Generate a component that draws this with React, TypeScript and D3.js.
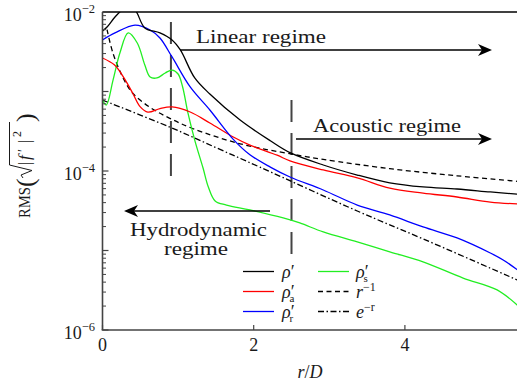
import React from 'react';
import * as d3 from 'd3';

const W = 517;
const H = 385;

// tick labels
const xTickValues = [0, 2, 4];
const yLabelExps = [-2, -4, -6];

// rho' (total)
const rhoR = [0, 0.06, 0.165, 0.26, 0.33, 0.43, 0.56, 0.76, 0.92, 1.03, 1.22, 1.42, 1.82, 2.22, 2.48, 2.92, 3.37, 3.8, 4.24, 4.69, 5.13, 5.5];
const rhoV = [5.77e-3, 6.47e-3, 8.65e-3, 1.06e-2, 1.15e-2, 1.06e-2, 6.31e-3, 5.45e-3, 4.45e-3, 3.33e-3, 1.48e-3, 9.3e-4, 4.37e-4, 2.4e-4, 1.7e-4, 1.19e-4, 8.9e-5, 7.1e-5, 6.3e-5, 5.94e-5, 5.45e-5, 5.1e-5];

// rho'_a
const rhoAR = [0, 0.16, 0.3, 0.4, 0.5, 0.6, 0.76, 0.92, 1.16, 1.42, 1.73, 1.95, 2.31, 2.48, 2.92, 3.37, 3.8, 4.24, 4.69, 5.13, 5.5];
const rhoAV = [2.64e-3, 2.15e-3, 1.4e-3, 9.5e-4, 6.4e-4, 5.5e-4, 6.1e-4, 6.4e-4, 5.52e-4, 4.02e-4, 2.68e-4, 2.12e-4, 1.58e-4, 1.34e-4, 1.03e-4, 8.2e-5, 6.1e-5, 5.28e-5, 4.71e-5, 4.07e-5, 3.85e-5];

// rho'_r
const rhoRR = [0, 0.165, 0.43, 0.63, 0.76, 0.92, 1.16, 1.42, 1.73, 1.95, 2.22, 2.48, 2.92, 3.37, 3.8, 4.24, 4.69, 5.13, 5.3, 5.5];
const rhoRV = [4.45e-3, 5.45e-3, 6.85e-3, 5.94e-3, 4.71e-3, 2.72e-3, 1.14e-3, 5.85e-4, 2.5e-4, 1.6e-4, 1.12e-4, 8.4e-5, 5.77e-5, 3.73e-5, 2.8e-5, 1.98e-5, 1.44e-5, 9.3e-6, 7.6e-6, 5.6e-6];

// rho'_s
const rhoSR = [0, 0.05, 0.14, 0.23, 0.34, 0.46, 0.56, 0.63, 0.72, 0.83, 0.92, 1.0, 1.06, 1.13, 1.22, 1.33, 1.4, 1.49, 1.64, 1.95, 2.39, 2.61, 2.92, 3.37, 3.8, 4.24, 4.77, 5.22, 5.5];
const rhoSV = [7.8e-4, 6.76e-4, 1.4e-3, 3.05e-3, 5.45e-3, 4.07e-3, 2.15e-3, 1.52e-3, 1.48e-3, 1.71e-3, 1.86e-3, 1.66e-3, 1.14e-3, 5.37e-4, 2.45e-4, 1.09e-4, 6.3e-5, 4.2e-5, 3.73e-5, 3.24e-5, 2.57e-5, 2.22e-5, 1.71e-5, 1.28e-5, 9.6e-6, 7.2e-6, 4.5e-6, 3.2e-6, 2.0e-6];

// r^-1 reference
const invR = [0.06, 0.14, 0.27, 0.4, 0.63, 0.89, 1.2, 1.82, 2.52, 2.92, 3.8, 4.69, 5.5];
const invV = [6.0e-3, 3.0e-3, 1.5e-3, 9.5e-4, 6.3e-4, 4.6e-4, 3.4e-4, 2.2e-4, 1.62e-4, 1.4e-4, 1.07e-4, 8.7e-5, 7.4e-5];

// e^-r reference
const expR = [0, 0.89, 1.51, 2.08, 3.37, 4.24, 5.13, 5.5];
const expV = [7.8e-4, 3.57e-4, 1.95e-4, 1.12e-4, 3.14e-5, 1.4e-5, 6.0e-6, 4.2e-6];

// regime boundaries (r/D)
const boundaries = [0.905, 2.5];

const serif = "'Liberation Serif', 'DejaVu Serif', 'Times New Roman', serif";

type Series = { key: string; r: number[]; v: number[]; color: string; dash?: string };

const series: Series[] = [
  { key: 'inv', r: invR, v: invV, color: '#000', dash: '5,3.5' },
  { key: 'exp', r: expR, v: expV, color: '#000', dash: '6,2.5,1.5,2.5' },
  { key: 's', r: rhoSR, v: rhoSV, color: '#22ee22' },
  { key: 'a', r: rhoAR, v: rhoAV, color: '#ff0000' },
  { key: 'rr', r: rhoRR, v: rhoRV, color: '#0000ff' },
  { key: 'rho', r: rhoR, v: rhoV, color: '#000' },
];

function Arrow({ x1, x2, y }: { x1: number; x2: number; y: number }) {
  const dir = x2 > x1 ? 1 : -1;
  const len = 14;
  const half = 6;
  const notch = 10;
  const head = `M${x2},${y} L${x2 - dir * len},${y - half} L${x2 - dir * notch},${y} L${x2 - dir * len},${y + half} Z`;
  return (
    <g>
      <line x1={x1} x2={x2 - dir * notch} y1={y} y2={y} stroke="#000" strokeWidth={1.4} />
      <path d={head} fill="#000" />
    </g>
  );
}

export default function App() {
  const x0 = 102.5, x1 = 518.3, yTop = 12, yBot = 330;
  const x = d3.scaleLinear().domain([0, 5.5]).range([x0, x1]);
  const y = d3.scaleLog().domain([1e-6, 1e-2]).range([yBot, yTop]);

  const line = (s: Series) =>
    d3
      .line<number>()
      .x((_, i) => x(s.r[i]))
      .y((_, i) => y(s.v[i]))
      .curve(d3.curveCatmullRom.alpha(0.5))(s.v) || '';

  const majors = d3.range(-6, -1).map((e) => Math.pow(10, e));
  const minors: number[] = [];
  for (let e = -6; e < -2; e++) for (let k = 2; k <= 9; k++) minors.push(k * Math.pow(10, e));

  const legend1 = [
    { color: '#000', sub: '' },
    { color: '#ff0000', sub: 'a' },
    { color: '#0000ff', sub: 'r' },
  ];
  const rowsY = [271.5, 291.5, 311.5];
  const txt = '#1a1a1a';

  return (
    <svg width={W} height={H} style={{ position: 'absolute', left: 0, top: 0, fontFamily: serif }}>
      <rect x={0} y={0} width={W} height={H} fill="#fff" />
      <defs>
        <clipPath id="plot">
          <rect x={x0} y={yTop} width={x1 - x0} height={yBot - yTop} />
        </clipPath>
      </defs>

      {/* regime boundaries */}
      <line x1={x(boundaries[0])} x2={x(boundaries[0])} y1={22} y2={176} stroke="#444" strokeWidth={2} strokeDasharray="22,11" />
      <line x1={x(boundaries[1])} x2={x(boundaries[1])} y1={100} y2={254} stroke="#444" strokeWidth={2} strokeDasharray="22,11" />

      {/* curves */}
      <g clipPath="url(#plot)">
        {series.map((s) => (
          <path key={s.key} d={line(s)} fill="none" stroke={s.color} strokeWidth={1.3} strokeDasharray={s.dash} />
        ))}
      </g>

      {/* frame */}
      <line x1={x0} x2={W} y1={yTop} y2={yTop} stroke="#000" strokeWidth={1.3} />
      <line x1={x0} x2={x0} y1={yTop} y2={yBot} stroke="#444" strokeWidth={1.6} />
      <line x1={x0 - 0.8} x2={W} y1={yBot} y2={yBot} stroke="#444" strokeWidth={1.6} />

      {/* y ticks */}
      {majors.map((m, i) => (
        <line key={'M' + i} x1={x0} x2={x0 + 6} y1={y(m)} y2={y(m)} stroke="#444" strokeWidth={1.2} />
      ))}
      {minors.map((m, i) => (
        <line key={'m' + i} x1={x0} x2={x0 + 3.5} y1={y(m)} y2={y(m)} stroke="#444" strokeWidth={1} />
      ))}
      {yLabelExps.map((e) => (
        <text key={e} x={95} y={y(Math.pow(10, e)) + 9} textAnchor="end" fontSize={18} fill={txt}>
          10<tspan fontSize={12.5} dy={-8}>{'\u2212' + Math.abs(e)}</tspan>
        </text>
      ))}

      {/* x ticks */}
      {xTickValues.map((t) => (
        <g key={t}>
          <line x1={x(t)} x2={x(t)} y1={yBot} y2={yBot - 5} stroke="#444" strokeWidth={1.2} />
          <text x={x(t)} y={351} textAnchor="middle" fontSize={18} fill={txt}>
            {t}
          </text>
        </g>
      ))}

      {/* axis labels */}
      <text x={310} y={378} textAnchor="middle" fontSize={18} fontStyle="italic" fill={txt}>
        r<tspan fontStyle="normal">/</tspan>D
      </text>
      <g transform="translate(30,218) rotate(-90)" fill={txt}>
        <text x={0} y={0} fontSize={17} textLength={31} lengthAdjust="spacingAndGlyphs">RMS</text>
        <text x={31} y={4} fontSize={26}>(</text>
        <path d="M40,-7 L43,-9 L47.5,2 L53,-20.5 L96,-20.5" fill="none" stroke={txt} strokeWidth={1} />
        <text x={53} y={0} fontSize={17}>|</text>
        <text x={58} y={0} fontSize={17} fontStyle="italic">f</text>
        <text x={66} y={-2} fontSize={14}>′</text>
        <text x={75} y={0} fontSize={17}>|</text>
        <text x={81} y={-9} fontSize={12}>2</text>
        <text x={96} y={4} fontSize={26}>)</text>
      </g>

      {/* annotations */}
      <text x={196} y={43} fontSize={19} textLength={130} lengthAdjust="spacingAndGlyphs" fill={txt}>Linear regime</text>
      <Arrow x1={180} x2={492} y={50} />
      <text x={313} y={132} fontSize={19} textLength={148} lengthAdjust="spacingAndGlyphs" fill={txt}>Acoustic regime</text>
      <Arrow x1={296} x2={492} y={139} />
      <Arrow x1={270} x2={124} y={211} />
      <text x={130} y={236} fontSize={19} textLength={137} lengthAdjust="spacingAndGlyphs" fill={txt}>Hydrodynamic</text>
      <text x={164} y={255} fontSize={19} textLength={64} lengthAdjust="spacingAndGlyphs" fill={txt}>regime</text>

      {/* legend column 1 */}
      {legend1.map((l, i) => (
        <g key={'l1' + i}>
          <line x1={243} x2={274} y1={rowsY[i]} y2={rowsY[i]} stroke={l.color} strokeWidth={1.3} />
          <text x={282} y={rowsY[i] + 6} fontSize={18} fill={txt}>
            <tspan fontStyle="italic">ρ</tspan>′
            {l.sub && (
              <tspan fontSize={11} dx={-5} dy={4}>{l.sub}</tspan>
            )}
          </text>
        </g>
      ))}
      {/* legend column 2 */}
      <line x1={318} x2={349} y1={rowsY[0]} y2={rowsY[0]} stroke="#22ee22" strokeWidth={1.3} />
      <text x={356} y={rowsY[0] + 6} fontSize={18} fill={txt}>
        <tspan fontStyle="italic">ρ</tspan>′<tspan fontSize={11} dx={-5} dy={4}>s</tspan>
      </text>
      <line x1={318} x2={349} y1={rowsY[1]} y2={rowsY[1]} stroke="#000" strokeWidth={1.3} strokeDasharray="5,3.5" />
      <text x={356} y={rowsY[1] + 6} fontSize={18} fill={txt}>
        <tspan fontStyle="italic">r</tspan>
        <tspan fontSize={12} dy={-7}>−1</tspan>
      </text>
      <line x1={318} x2={349} y1={rowsY[2]} y2={rowsY[2]} stroke="#000" strokeWidth={1.3} strokeDasharray="6,2.5,1.5,2.5" />
      <text x={356} y={rowsY[2] + 6} fontSize={18} fill={txt}>
        <tspan fontStyle="italic">e</tspan>
        <tspan fontSize={12} dy={-7}>−r</tspan>
      </text>
    </svg>
  );
}
